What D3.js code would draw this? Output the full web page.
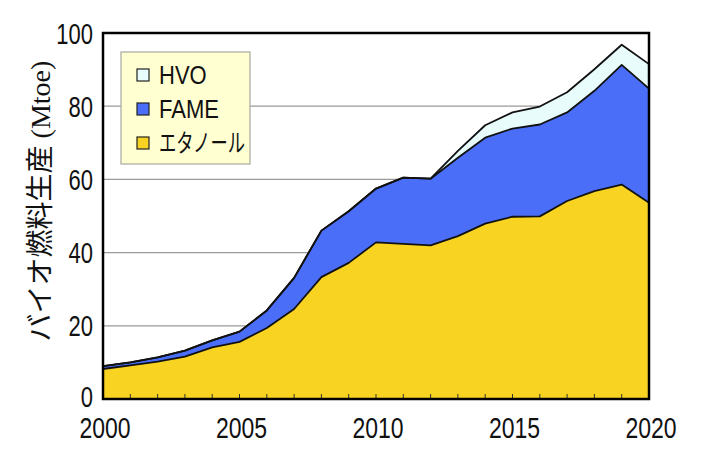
<!DOCTYPE html>
<html><head><meta charset="utf-8">
<script src="https://cdn.jsdelivr.net/npm/d3@7"></script>
<style>html,body{margin:0;padding:0;background:#fff;}svg{display:block;}</style>
</head><body>
<svg id="chart" width="706" height="455"></svg>
<script>
const years = [2000,2001,2002,2003,2004,2005,2006,2007,2008,2009,2010,2011,2012,2013,2014,2015,2016,2017,2018,2019,2020];
const ethanol = [8.2,9.2,10.2,11.6,14.1,15.6,19.4,24.6,33.3,37.2,42.8,42.4,42.0,44.5,47.9,49.8,49.9,54.1,56.8,58.6,53.6];
const fame    = [0.8,0.8,1.2,1.6,1.9,2.8,4.8,8.5,12.7,14.1,14.7,18.1,18.2,21.4,23.5,24.1,25.1,24.2,27.4,32.7,31.2];
const hvo     = [0,0,0,0,0,0,0,0,0,0,0,0,0,1.9,3.4,4.4,4.9,5.5,5.9,5.5,6.7];
const seriesKeys = ["ethanol","fame","hvo"];
const seriesLabels = ["エタノール","FAME","HVO"];
const seriesColors = ["#F8D321","#4A6EF7","#E8FCFC"];
const yTicks = [0,20,40,60,80,100];
const xTicks = [2000,2005,2010,2015,2020];
const yTitle = "バイオ燃料生産";
const yUnit = " (Mtoe)";

const table = years.map((y,i)=>({year:y, ethanol:ethanol[i], fame:fame[i], hvo:hvo[i]}));

const svg = d3.select("#chart");
const L=103, R=649, T=33, B=399;
const x = d3.scaleLinear().domain([2000,2020]).range([L,R]);
const y = d3.scaleLinear().domain([0,100]).range([B,T]);
const numFont = "'Liberation Sans', Arial, sans-serif";
const VS = 1.3; // vertical stretch of the reference's lettering

// gridlines
svg.append("g").selectAll("line").data(yTicks.filter(d=>d>0&&d<100)).join("line")
  .attr("x1",L).attr("x2",R).attr("y1",d=>y(d)).attr("y2",d=>y(d))
  .attr("stroke","#9a9a9a").attr("stroke-width",1.2);

const stack = d3.stack().keys(seriesKeys)(table);
const area = d3.area().x(d=>x(d.data.year)).y0(d=>y(d[0])).y1(d=>y(d[1]));
const line = d3.line().x(d=>x(d.data.year)).y(d=>y(d[1]));

svg.append("g").selectAll("path").data(stack).join("path")
  .attr("d",area).attr("fill",(d,i)=>seriesColors[i]);
svg.append("g").selectAll("path").data(stack).join("path")
  .attr("d",line).attr("fill","none").attr("stroke","#111").attr("stroke-width",1.8)
  .attr("stroke-linejoin","round");

// minor year ticks inside bottom
svg.append("g").selectAll("line").data(years.slice(1,-1)).join("line")
  .attr("x1",d=>x(d)).attr("x2",d=>x(d)).attr("y1",B).attr("y2",B-5)
  .attr("stroke","#333").attr("stroke-width",1);

// frame
svg.append("rect").attr("x",L).attr("y",T).attr("width",R-L).attr("height",B-T)
  .attr("fill","none").attr("stroke","#000").attr("stroke-width",2.5);

// y tick labels
svg.append("g").selectAll("text").data(yTicks).join("text")
  .attr("transform",d=>`translate(93,${y(d)+(d===0?8:10.5)}) scale(1,${VS})`)
  .attr("text-anchor","end")
  .attr("font-family",numFont).attr("font-size",22).attr("fill","#111")
  .text(d=>d);
// x tick labels
svg.append("g").selectAll("text").data(xTicks).join("text")
  .attr("transform",d=>`translate(${x(d)+2},438) scale(1,${VS})`)
  .attr("text-anchor","middle")
  .attr("font-family",numFont).attr("font-size",23).attr("fill","#111")
  .text(d=>d);

// y title
const tt = svg.append("text").attr("transform","translate(50,201) rotate(-90)")
  .attr("text-anchor","middle").attr("fill","#111");
tt.append("tspan").attr("font-family","'Noto Sans CJK JP', sans-serif").attr("font-size",28).text(yTitle);
tt.append("tspan").attr("font-family","'Liberation Serif', serif").attr("font-size",28).text(yUnit);

// legend
const lg = svg.append("g");
lg.append("rect").attr("x",121).attr("y",52).attr("width",129).attr("height",112)
  .attr("fill","#FFFFD2").attr("stroke","#a8a8a0").attr("stroke-width",1.2);
const order = [2,1,0];
order.forEach((k,j)=>{
  const cy = 75 + j*34;
  lg.append("rect").attr("x",137).attr("y",cy-6).attr("width",12).attr("height",12)
    .attr("fill",seriesColors[k]).attr("stroke","#222").attr("stroke-width",1.2);
  const t = lg.append("text").attr("transform",`translate(159,${cy+9}) scale(1,1.2)`)
    .attr("font-family", k===0 ? "'Noto Sans CJK JP', sans-serif" : numFont)
    .attr("font-size", k===0 ? 21 : 22).attr("fill","#111").text(seriesLabels[k]);
  if (k===0) t.attr("textLength",86).attr("lengthAdjust","spacingAndGlyphs");
});
</script>
</body></html>
